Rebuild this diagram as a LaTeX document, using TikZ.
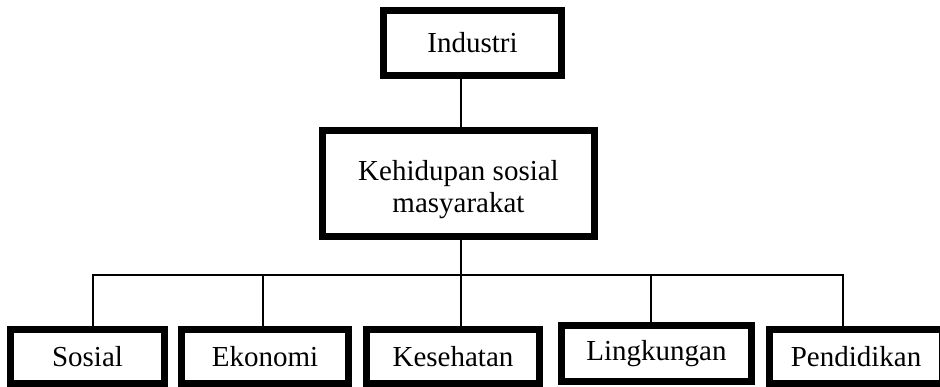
\documentclass[tikz,border=0pt]{standalone}
\usepackage{fontspec}
\setmainfont{Liberation Serif}

\begin{document}
\begin{tikzpicture}[
            x=1pt, y=1pt,
            kotak/.style={draw, line width=7pt, fill=white, align=center, inner sep=0pt,
                font=\fontsize{29}{32}\selectfont},
            garis/.style={line width=1.8pt}
        ]
            \useasboundingbox (0,0) rectangle (940,387);

            \node [kotak, minimum width=178pt, minimum height=65pt] (ind) at (472.5,344) {Industri};
            \node [kotak, minimum width=272pt, minimum height=106pt] (keh) at (458.5,203.5) {\rule{0pt}{32pt}Kehidupan sosial\\masyarakat};

            \node [kotak, minimum width=154pt, minimum height=54pt] (sos) at (87.5,30.5) {Sosial};
            \node [kotak, minimum width=167pt, minimum height=54pt] (eko) at (265,30.5) {Ekonomi};
            \node [kotak, minimum width=173pt, minimum height=54pt] (kes) at (453,30.5) {Kesehatan};
            \node [kotak, minimum width=190pt, minimum height=56pt] (lin) at (656.5,33.5) {Lingkungan};
            \node [kotak, minimum width=173pt, minimum height=54pt] (pen) at (856,30.5) {Pendidikan};

            \coordinate (bar) at (461,112);

            \draw [garis] (ind.south -| bar) -- (keh.north -| bar);
            \draw [garis] (keh.south -| bar) -- (kes.north -| bar);
            \draw [garis] ([xshift=5.5pt]sos.north) |- (bar) -| ([xshift=-13pt]pen.north);
            \foreach \n/\dx in {eko/-2, lin/-5.5} {
                \draw [garis] ([xshift=\dx pt]\n.north) -- ([xshift=\dx pt]\n.north |- bar);
            }
        \end{tikzpicture}
\end{document}
